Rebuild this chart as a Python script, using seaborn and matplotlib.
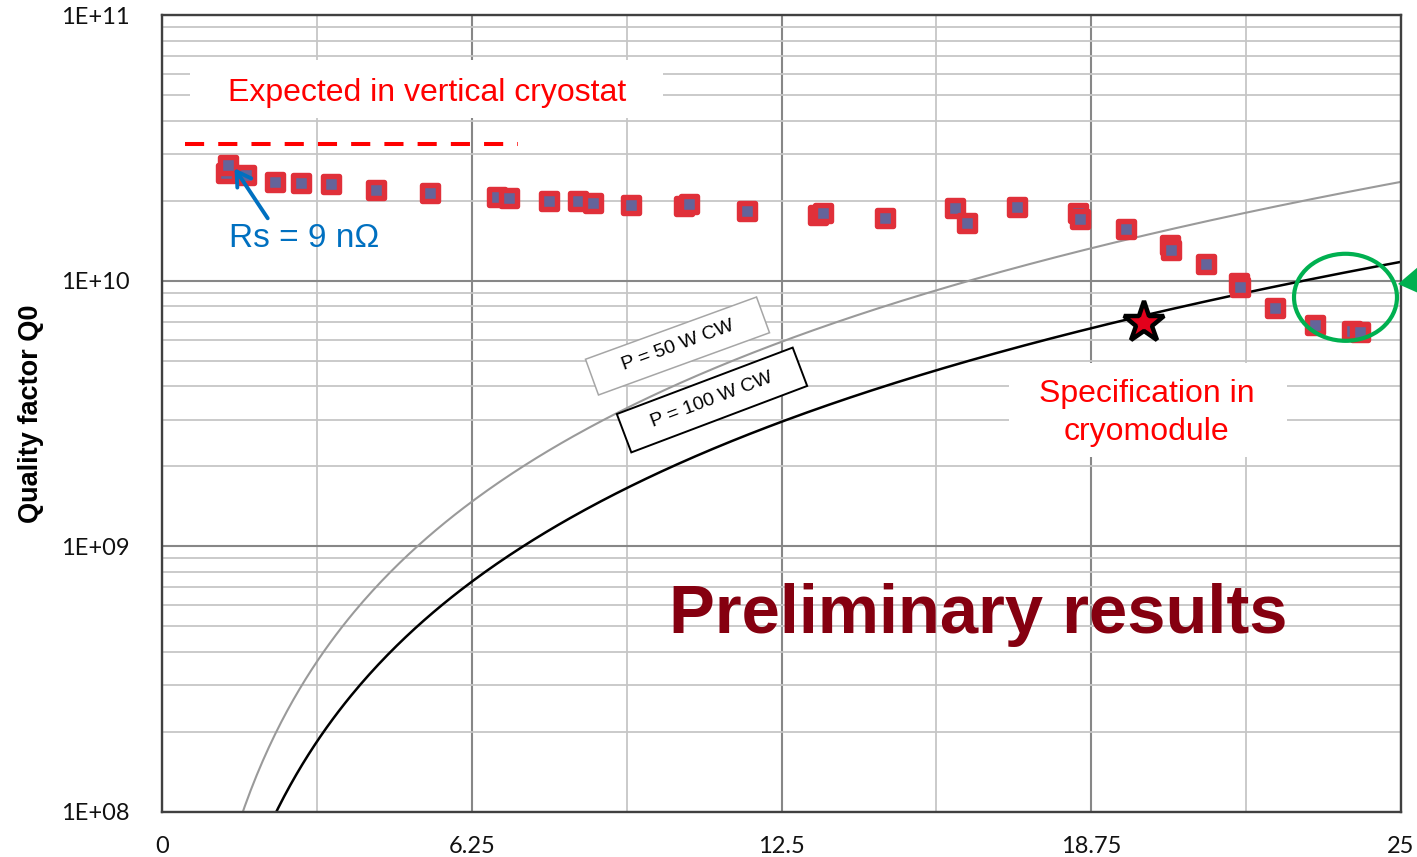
import numpy as np
import pandas as pd
import matplotlib
matplotlib.use("Agg")
import matplotlib.pyplot as plt
import seaborn as sns
from matplotlib.patches import Rectangle, Ellipse, Polygon
from matplotlib.transforms import IdentityTransform
from matplotlib.ticker import FixedLocator, FixedFormatter, LogLocator, NullFormatter

# Measured cavity performance: accelerating gradient (MV/m) vs. Q0
gradient = [1.30, 1.34, 1.70, 2.28, 2.81, 3.42, 4.32, 5.41, 6.76, 7.01,
            7.80, 8.40, 8.70, 9.47, 10.53, 10.63, 11.81, 13.24, 13.34, 14.59,
            16.00, 16.25, 17.26, 18.48, 18.52, 19.46, 20.33, 20.36, 21.07, 21.73,
            21.75, 22.45, 23.27, 24.02, 24.17]
q0 = [2.54e10, 2.72e10, 2.50e10, 2.36e10, 2.34e10, 2.31e10, 2.19e10, 2.13e10, 2.07e10, 2.04e10,
      1.995e10, 1.995e10, 1.955e10, 1.93e10, 1.91e10, 1.94e10, 1.83e10, 1.77e10, 1.79e10, 1.72e10,
      1.87e10, 1.65e10, 1.89e10, 1.79e10, 1.71e10, 1.57e10, 1.36e10, 1.30e10, 1.16e10, 9.76e9,
      9.47e9, 7.91e9, 6.81e9, 6.48e9, 6.43e9]

# Cryomodule specification point
spec_gradient = [19.81]
spec_q0 = [6.91e9]

# Expected level in the vertical cryostat
expected_q0 = 3.26e10
expected_span = [0.46, 7.19]

# Constant dissipated-power curves
power_levels = [50, 100]
power_labels = ["P = 50 W CW", "P = 100 W CW"]
ACTIVE_LENGTH = 0.9   # m
R_OVER_Q = 430.0      # Ohm

x_ticks = [0, 6.25, 12.5, 18.75, 25]
x_tick_labels = ["0", "6.25", "12.5", "18.75", "25"]
x_minor_ticks = [3.125, 9.375, 15.625, 21.875]
y_ticks = [1e8, 1e9, 1e10, 1e11]
y_tick_labels = ["1E+08", "1E+09", "1E+10", "1E+11"]


def q0_at_power(e_acc, p_watts):
    v = e_acc * 1e6 * ACTIVE_LENGTH
    return v ** 2 / (R_OVER_Q * p_watts)


e_grid = np.linspace(0.5, 25, 400)
curves = pd.DataFrame({
    "E": np.concatenate([e_grid] * len(power_levels)),
    "Q0": np.concatenate([q0_at_power(e_grid, p) for p in power_levels]),
    "P": np.repeat(power_levels, len(e_grid)),
})

sns.set_theme(style="white")
plt.rcParams["font.family"] = ["Liberation Sans", "DejaVu Sans"]

W, H = 1417, 857
fig = plt.figure(figsize=(W / 100, H / 100), dpi=100)
ax = fig.add_axes([162 / W, (H - 812) / H, 1239 / W, 797 / H])

ax.set_yscale("log")
ax.set_xlim(0, 25)
ax.set_ylim(1e8, 1e11)

# white panels behind the annotations
ax.add_patch(Rectangle((0.565, 4.096e10), 10.11 - 0.565, 6.77e10 - 4.096e10,
                       facecolor="white", edgecolor="none", zorder=1))
ax.add_patch(Rectangle((17.09, 2.17e9), 22.70 - 17.09, 4.90e9 - 2.17e9,
                       facecolor="white", edgecolor="none", zorder=1))

# constant power curves
sns.lineplot(data=curves[curves["P"] == 50], x="E", y="Q0", color="#9a9a9a",
             lw=1.5, ax=ax, zorder=2, estimator=None, sort=False)
sns.lineplot(data=curves[curves["P"] == 100], x="E", y="Q0", color="black",
             lw=1.8, ax=ax, zorder=2, estimator=None, sort=False)

# expected level
ax.plot(expected_span, [expected_q0, expected_q0], color="#FF0000", lw=2.9,
        ls=(0, (4.75, 3.5)), dash_capstyle="butt", zorder=3)

# measured points
sns.scatterplot(x=gradient, y=q0, marker="s", s=125, color="#64649A",
                edgecolor="#E0303A", linewidth=3.9, ax=ax, zorder=4, legend=False)
ax.collections[-1].set_joinstyle("round")

# specification star
ax.plot(spec_gradient, spec_q0, marker="*", ms=31, mfc="#E3001B", mec="black",
        mew=3.2, ls="none", zorder=5)

# axes, grid and tick labels
ax.set_xlabel("")
ax.set_ylabel("")
ax.xaxis.set_major_locator(FixedLocator(x_ticks))
ax.xaxis.set_major_formatter(FixedFormatter(x_tick_labels))
ax.xaxis.set_minor_locator(FixedLocator(x_minor_ticks))
ax.xaxis.set_minor_formatter(NullFormatter())
ax.yaxis.set_major_locator(FixedLocator(y_ticks))
ax.yaxis.set_major_formatter(FixedFormatter(y_tick_labels))
ax.yaxis.set_minor_locator(LogLocator(base=10, subs=np.arange(2, 10)))
ax.yaxis.set_minor_formatter(NullFormatter())
ax.set_xlim(0, 25)
ax.set_ylim(1e8, 1e11)
ax.set_axisbelow(True)
ax.grid(which="major", color="#878787", lw=1.5)
ax.grid(which="minor", color="#c6c6c6", lw=1.3)
ax.tick_params(which="both", length=0)
ax.tick_params(axis="y", pad=23.5)
ax.tick_params(axis="x", pad=17)
for lab in ax.get_xticklabels() + ax.get_yticklabels():
    lab.set_fontfamily("Lato")
    lab.set_fontsize(17)
    lab.set_color("#111111")
for sp in ax.spines.values():
    sp.set_color("#404040")
    sp.set_linewidth(1.7)

# texts
ax.text(5.35, 4.75e10, "Expected in vertical cryostat", ha="center", va="baseline",
        fontsize=23, color="#FF0000", zorder=6)
ax.text(1.352, 1.342e10, "Rs = 9 nΩ", ha="left", va="baseline",
        fontsize=24, color="#0070C0", zorder=6)
ax.annotate("", xy=(1.463, 2.649e10), xytext=(2.133, 1.717e10),
            arrowprops=dict(arrowstyle="->,head_length=0.5,head_width=0.3",
                            color="#0070C0", lw=2.8, mutation_scale=20,
                            shrinkA=0, shrinkB=0), zorder=6)
ax.text(19.87, 3.503e9, "Specification in", ha="center", va="baseline",
        fontsize=23, color="#FF0000", zorder=6)
ax.text(19.87, 2.513e9, "cryomodule", ha="center", va="baseline",
        fontsize=23, color="#FF0000", zorder=6)
ax.text(16.46, 4.72e8, "Preliminary results", ha="center", va="baseline",
        fontsize=49.5, fontweight="bold", color="#850010", zorder=6)

# highlight around the last points
ax.add_patch(Ellipse((0.9552, 0.6458), 0.0831, 0.1092, transform=ax.transAxes,
                     fill=False, edgecolor="#00B050", lw=3, zorder=7))

ident = IdentityTransform()
fig.add_artist(Polygon([(1398, H - 284), (1425, H - 261), (1425, H - 296)],
                       closed=True, facecolor="#00B050", edgecolor="none",
                       transform=ident))

# power curve labels
label_specs = [((677.5, 346), 182, 38, 20.0, "#a6a6a6", 1.1),
               ((712, 400), 188, 41, 20.7, "black", 1.4)]
for spec, txt in zip(label_specs, power_labels):
    (cx, cy), bw, bh, ang, ec, lw_box = spec
    fig.add_artist(Rectangle((cx - bw / 2, H - cy - bh / 2), bw, bh, angle=ang,
                             rotation_point="center", facecolor="white",
                             edgecolor=ec, lw=lw_box, transform=ident, zorder=8))
    fig.text(cx, H - cy, txt, rotation=ang, rotation_mode="anchor", ha="center",
             va="center", fontsize=14, color="black", transform=ident, zorder=9)

fig.text(31.5, H - 414, "Quality factor Q0", rotation=90, ha="center", va="center",
         fontsize=19.5, fontweight="bold", color="black", transform=ident)

fig.savefig("out.png", dpi=100)
